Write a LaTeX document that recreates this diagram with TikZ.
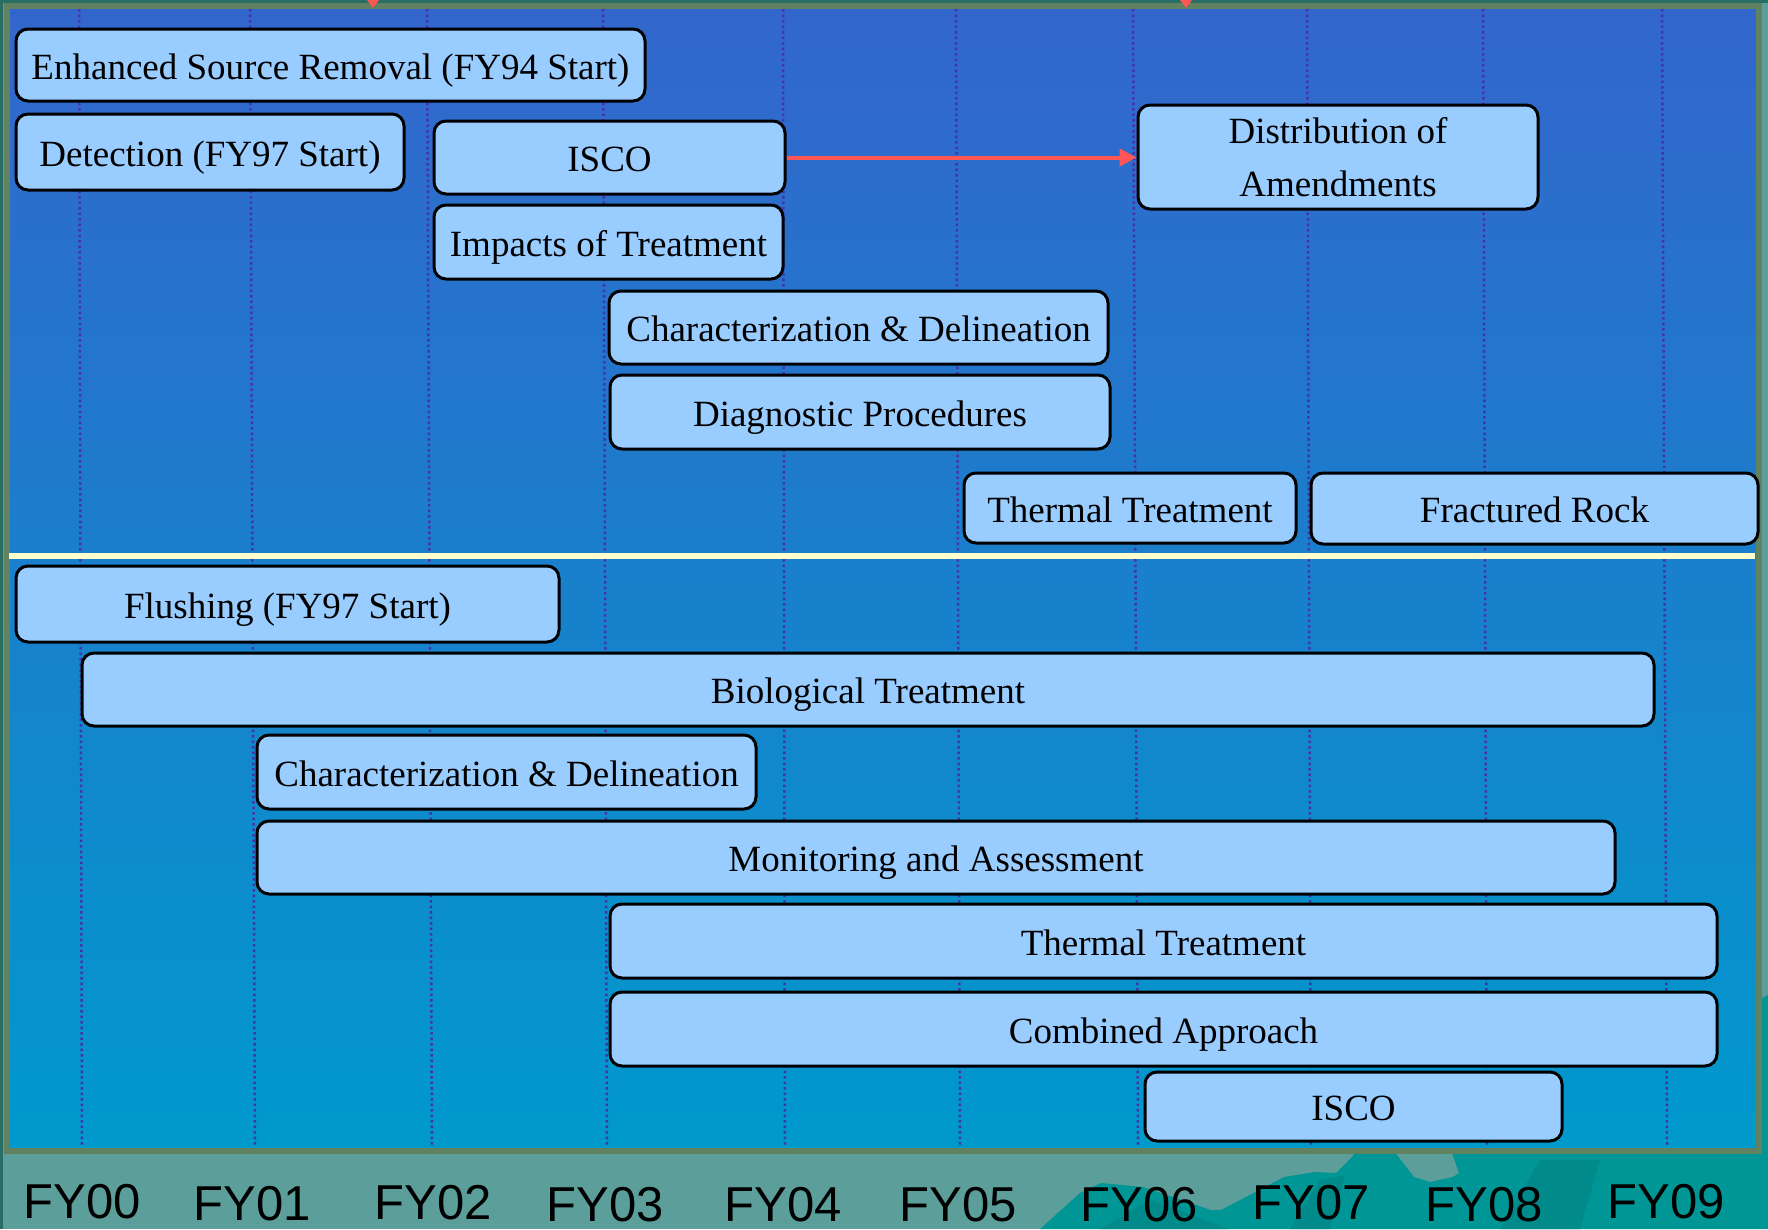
\documentclass[tikz,border=0pt]{standalone}
\usepackage{fontspec}
\setmainfont{Liberation Serif}
\newfontfamily\fysans{Liberation Sans}
\usetikzlibrary{arrows.meta}
\definecolor{bgteal}{RGB}{92,158,154}
\definecolor{darkteal}{RGB}{40,110,100}
\definecolor{mtn}{RGB}{0,150,150}
\definecolor{mtndark}{RGB}{0,138,138}
\definecolor{bordcol}{RGB}{96,130,96}
\definecolor{paneltop}{RGB}{51,102,204}
\definecolor{panelbot}{RGB}{0,153,204}
\definecolor{boxfill}{RGB}{153,204,255}
\definecolor{dotc}{RGB}{68,51,170}
\definecolor{divc}{RGB}{255,255,204}
\definecolor{redc}{RGB}{255,85,85}
\tikzset{
  gbox/.style={draw=black, line width=3pt, fill=boxfill, rounded corners=12pt,
    inner sep=0pt, font=\fontsize{37}{44}\selectfont, text height=28pt, text depth=0pt},
  gbox2/.style={draw=black, line width=3pt, fill=boxfill, rounded corners=12pt,
    inner sep=0pt, font=\fontsize{37}{53}\selectfont, align=center},
  dotline/.style={dotc, line width=2.5pt, dash pattern=on 2.5pt off 3pt},
  fylab/.style={font=\fysans\fontsize{49}{55}\selectfont, anchor=base, inner sep=0pt},
}
\newcommand\gbx[7][gbox]{%
  \pgfmathsetmacro\gbxcx{(#3+#5)/2}%
  \pgfmathsetmacro\gbxcy{(#4+#6)/2}%
  \pgfmathsetmacro\gbxw{#5-#3}%
  \pgfmathsetmacro\gbxh{#6-#4}%
  \node[#1, minimum width=\gbxw pt, minimum height=\gbxh pt] (#2) at (\gbxcx,\gbxcy) {#7};}
\begin{document}
\begin{tikzpicture}[x=1pt,y=-1pt]
\useasboundingbox (0,0) rectangle (1768,1229);
% background
\fill[bgteal] (0,0) rectangle (1768,1229);
\fill[darkteal] (0,0) rectangle (1768,3);
\fill[darkteal] (0,0) rectangle (3,1229);
% mountains
\fill[mtn] (1040,1229) -- (1080,1193) -- (1101,1183) -- (1143,1187) -- (1211,1210) -- (1221,1210)
  -- (1284,1177) -- (1315,1172) -- (1336,1173) -- (1352,1157) -- (1357,1150) -- (1393,1150)
  -- (1414,1177) -- (1430,1182) -- (1453,1177) -- (1459,1173) -- (1451,1150) -- (1768,1150)
  -- (1768,995) -- (1762,998) -- (1762,1150) -- (1768,1150) -- (1768,1229) -- cycle;
\fill[mtndark] (1100,1229) -- (1150,1200) -- (1230,1229) -- cycle;
\fill[mtndark] (1290,1229) -- (1320,1180) -- (1345,1175) -- (1330,1229) -- cycle;
\fill[mtndark] (1500,1229) -- (1540,1160) -- (1600,1160) -- (1580,1229) -- cycle;
% panel
\fill[top color=paneltop, bottom color=panelbot] (9,8) rectangle (1756,1148);
\draw[bordcol, line width=6pt] (6.5,5.5) rectangle (1759,1150.5);
% red marks at top
\fill[redc] (367,0) -- (379,0) -- (373,8) -- cycle;
\fill[redc] (1180,0) -- (1192,0) -- (1186,8) -- cycle;
% year grid
\foreach \a/\b in {79/82, 250/255, 427/432, 603/607, 783/785, 956/960, 1133/1138, 1307/1311, 1483/1487, 1662/1667}
  \draw[dotline] (\a,9) -- (\b,1147);
% divider
\fill[divc] (9,553) rectangle (1755,559);
% boxes (upper group)
\gbx{esr}{16}{29}{645}{101}{Enhanced Source Removal (FY94 Start)}
\gbx{det}{16}{114}{404}{190}{Detection (FY97 Start)}
\gbx{iscoA}{434}{121}{785}{194}{ISCO}
\gbx[gbox2]{dist}{1138}{105}{1538}{209}{Distribution of\\Amendments}
\gbx{imp}{434}{205}{783}{279}{Impacts of Treatment}
\gbx{cdA}{609}{291}{1108}{364}{Characterization \& Delineation}
\gbx{diag}{610}{375}{1110}{449}{Diagnostic Procedures}
\gbx{thA}{964}{473}{1296}{543}{Thermal Treatment}
\gbx{frac}{1311}{473}{1758}{544}{Fractured Rock}
% boxes (lower group)
\gbx{flush}{16}{566}{559}{642}{Flushing (FY97 Start)}
\gbx{bio}{82}{653}{1654}{726}{Biological Treatment}
\gbx{cdB}{257}{735}{756}{809}{Characterization \& Delineation}
\gbx{mon}{257}{821}{1615}{894}{Monitoring and Assessment}
\gbx{thB}{610}{904}{1717}{978}{Thermal Treatment}
\gbx{comb}{610}{992}{1717}{1066}{Combined Approach}
\gbx{iscoB}{1145}{1072}{1562}{1141}{ISCO}
% arrow
\draw[redc, line width=4pt, -{Triangle[length=17pt,width=17pt]}] (iscoA.east) -- (iscoA.east -| dist.west);
% year labels
\node[fylab] (fy00) at (82,1218) {FY00};
\node[fylab] (fy01) at (252,1220) {FY01};
\node[fylab] (fy02) at (433,1219) {FY02};
\node[fylab] (fy03) at (605,1221) {FY03};
\node[fylab] (fy04) at (783,1221) {FY04};
\node[fylab] (fy05) at (958,1221) {FY05};
\node[fylab] (fy06) at (1139,1221) {FY06};
\node[fylab] (fy07) at (1311,1219) {FY07};
\node[fylab] (fy08) at (1484,1221) {FY08};
\node[fylab] (fy09) at (1666,1218) {FY09};
\end{tikzpicture}
\end{document}
